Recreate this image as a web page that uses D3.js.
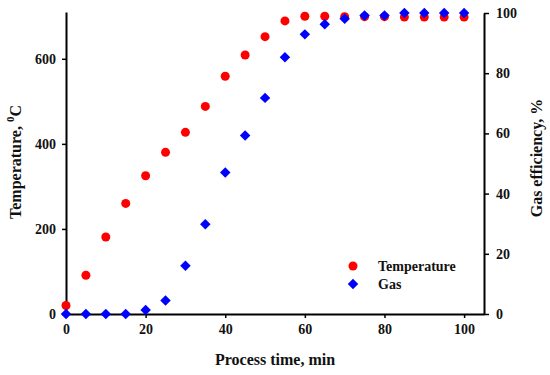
<!DOCTYPE html>
<html>
<head>
<meta charset="utf-8">
<script src="https://cdn.jsdelivr.net/npm/d3@7"></script>
<style>
  body { margin: 0; background: #fff; }
  svg text { font-family: "Liberation Serif", "Times New Roman", serif; font-weight: bold; fill: #111; }
</style>
</head>
<body>
<div id="chart"></div>
<script>
// process time, min
let times = [0, 5, 10, 15, 20, 25, 30, 35, 40, 45, 50, 55, 60, 65, 70, 75, 80, 85, 90, 95, 100];
// temperature, deg C
let temperature = [20, 91, 181, 260, 325, 380, 427, 488, 559, 609, 652, 689, 700, 700, 699, 699, 699, 698, 698, 698, 698];
// gas efficiency, %
let gas = [0, 0, 0, 0, 1.3, 4.5, 16, 29.8, 47, 59.3, 71.8, 85.3, 92.9, 96.3, 98.1, 99.2, 99.2, 100, 100, 100, 100];

let xTicks = [0, 20, 40, 60, 80, 100];
let tempTicks = [0, 200, 400, 600];
let gasTicks = [0, 20, 40, 60, 80, 100];

let width = 550, height = 375;
let margin = {top: 13, bottom: 61, left: 66, right: 66};

let svg = d3.select("#chart").append("svg")
    .attr("width", width)
    .attr("height", height);

let xScale = d3.scaleLinear().domain([0, 105]).range([margin.left, width - margin.right]);
let yTemp = d3.scaleLinear().domain([0, 710]).range([height - margin.bottom, margin.top - 1]);
let yGas = d3.scaleLinear().domain([0, 100]).range([height - margin.bottom, margin.top]);

let xAxis = d3.axisBottom(xScale).tickValues(xTicks).tickSize(4).tickSizeOuter(0).tickPadding(6);
let leftAxis = d3.axisLeft(yTemp).tickValues(tempTicks).tickSize(4).tickSizeOuter(0).tickPadding(6);
let rightAxis = d3.axisRight(yGas).tickValues(gasTicks).tickSize(5).tickSizeOuter(0).tickPadding(7);

function styleAxis(g) {
    g.select(".domain").attr("stroke", "#000").attr("stroke-width", 2);
    g.selectAll(".tick line").attr("stroke", "#000").attr("stroke-width", 1.5);
    g.selectAll(".tick text")
        .style("font-family", '"Liberation Serif", serif')
        .style("font-weight", "bold")
        .style("font-size", "14px")
        .attr("fill", "#111");
}

svg.append("g")
    .attr("transform", `translate(0,${height - margin.bottom})`)
    .call(xAxis)
    .call(styleAxis);

svg.append("g")
    .attr("transform", `translate(${margin.left},0)`)
    .call(leftAxis)
    .call(styleAxis);

svg.append("g")
    .attr("transform", `translate(${width - margin.right},0)`)
    .call(rightAxis)
    .call(styleAxis);

// axis titles
svg.append("text")
    .attr("x", 275)
    .attr("y", 365)
    .attr("text-anchor", "middle")
    .style("font-size", "16px")
    .text("Process time, min");

let yt = svg.append("text")
    .attr("transform", "translate(21,162) rotate(-90)")
    .attr("text-anchor", "middle")
    .style("font-size", "16px");
yt.append("tspan").text("Temperature, ");
yt.append("tspan").attr("dy", -7).style("font-size", "11px").text("0");
yt.append("tspan").attr("dy", 7).text("C");

svg.append("text")
    .attr("transform", "translate(542,158) rotate(-90)")
    .attr("text-anchor", "middle")
    .style("font-size", "16px")
    .text("Gas efficiency, %");

// data marks
let diamond = d3.symbol().type(d3.symbolDiamond2).size(70);

svg.append("g").selectAll("circle")
    .data(times)
    .enter()
    .append("circle")
    .attr("cx", (d, i) => xScale(d))
    .attr("cy", (d, i) => yTemp(temperature[i]))
    .attr("r", 4.5)
    .style("fill", "#ff0000");

svg.append("g").selectAll("path")
    .data(times)
    .enter()
    .append("path")
    .attr("d", diamond)
    .attr("transform", (d, i) => `translate(${xScale(d)},${yGas(gas[i])})`)
    .style("fill", "#0000ff");

// legend
let legend = svg.append("g").attr("transform", "translate(353,266)");
legend.append("circle").attr("cx", 0).attr("cy", 0).attr("r", 4.5).style("fill", "#ff0000");
legend.append("path").attr("d", diamond).attr("transform", "translate(0,18)").style("fill", "#0000ff");
legend.append("text").attr("x", 25).attr("y", 5).style("font-size", "14px").text("Temperature");
legend.append("text").attr("x", 25).attr("y", 23).style("font-size", "14px").text("Gas");
</script>
</body>
</html>
